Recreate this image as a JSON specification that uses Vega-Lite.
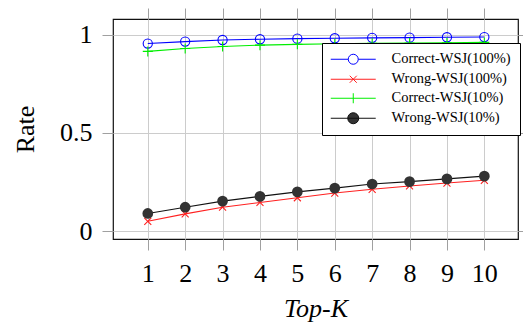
{
  "$schema": "https://vega.github.io/schema/vega-lite/v6.json",
  "width": 405,
  "height": 220,
  "autosize": {"type": "none"},
  "padding": {"left": 113, "top": 19, "right": 5, "bottom": 85},
  "config": {
    "font": "Liberation Serif",
    "view": {"stroke": "#111", "strokeWidth": 1.2},
    "axis": {"labelColor": "#000", "titleColor": "#000", "titleFontWeight": "normal", "labelFont": "Liberation Serif", "titleFont": "Liberation Serif"}
  },
  "data": {"values": [
    {"series": "Correct-WSJ(100%)", "k": 1, "rate": 0.955},
    {"series": "Correct-WSJ(100%)", "k": 2, "rate": 0.965},
    {"series": "Correct-WSJ(100%)", "k": 3, "rate": 0.973},
    {"series": "Correct-WSJ(100%)", "k": 4, "rate": 0.977},
    {"series": "Correct-WSJ(100%)", "k": 5, "rate": 0.980},
    {"series": "Correct-WSJ(100%)", "k": 6, "rate": 0.982},
    {"series": "Correct-WSJ(100%)", "k": 7, "rate": 0.984},
    {"series": "Correct-WSJ(100%)", "k": 8, "rate": 0.985},
    {"series": "Correct-WSJ(100%)", "k": 9, "rate": 0.987},
    {"series": "Correct-WSJ(100%)", "k": 10, "rate": 0.988},
    {"series": "Wrong-WSJ(100%)", "k": 1, "rate": 0.050},
    {"series": "Wrong-WSJ(100%)", "k": 2, "rate": 0.088},
    {"series": "Wrong-WSJ(100%)", "k": 3, "rate": 0.122},
    {"series": "Wrong-WSJ(100%)", "k": 4, "rate": 0.146},
    {"series": "Wrong-WSJ(100%)", "k": 5, "rate": 0.170},
    {"series": "Wrong-WSJ(100%)", "k": 6, "rate": 0.194},
    {"series": "Wrong-WSJ(100%)", "k": 7, "rate": 0.213},
    {"series": "Wrong-WSJ(100%)", "k": 8, "rate": 0.230},
    {"series": "Wrong-WSJ(100%)", "k": 9, "rate": 0.245},
    {"series": "Wrong-WSJ(100%)", "k": 10, "rate": 0.259},
    {"series": "Correct-WSJ(10%)", "k": 1, "rate": 0.915},
    {"series": "Correct-WSJ(10%)", "k": 2, "rate": 0.930},
    {"series": "Correct-WSJ(10%)", "k": 3, "rate": 0.940},
    {"series": "Correct-WSJ(10%)", "k": 4, "rate": 0.947},
    {"series": "Correct-WSJ(10%)", "k": 5, "rate": 0.951},
    {"series": "Correct-WSJ(10%)", "k": 6, "rate": 0.954},
    {"series": "Correct-WSJ(10%)", "k": 7, "rate": 0.956},
    {"series": "Correct-WSJ(10%)", "k": 8, "rate": 0.958},
    {"series": "Correct-WSJ(10%)", "k": 9, "rate": 0.959},
    {"series": "Correct-WSJ(10%)", "k": 10, "rate": 0.961},
    {"series": "Wrong-WSJ(10%)", "k": 1, "rate": 0.090},
    {"series": "Wrong-WSJ(10%)", "k": 2, "rate": 0.122},
    {"series": "Wrong-WSJ(10%)", "k": 3, "rate": 0.153},
    {"series": "Wrong-WSJ(10%)", "k": 4, "rate": 0.177},
    {"series": "Wrong-WSJ(10%)", "k": 5, "rate": 0.200},
    {"series": "Wrong-WSJ(10%)", "k": 6, "rate": 0.219},
    {"series": "Wrong-WSJ(10%)", "k": 7, "rate": 0.240},
    {"series": "Wrong-WSJ(10%)", "k": 8, "rate": 0.252},
    {"series": "Wrong-WSJ(10%)", "k": 9, "rate": 0.266},
    {"series": "Wrong-WSJ(10%)", "k": 10, "rate": 0.280}
  ]},
  "resolve": {"axis": {"x": "independent", "y": "independent"}},
  "layer": [
    {
      "mark": {"type": "line", "strokeWidth": 1.1},
      "encoding": {
        "x": {"field": "k", "type": "quantitative",
          "scale": {"domain": [0.07, 10.9], "nice": false, "zero": false},
          "axis": {"orient": "bottom", "values": [1,2,3,4,5,6,7,8,9,10], "format": "d", "grid": true, "gridColor": "#cccccc", "gridWidth": 1,
            "tickColor": "#a0a0a0", "tickSize": 11, "domain": false, "labelFontSize": 26, "labelPadding": 10,
            "title": "Top-K", "titleFontSize": 26, "titleFontStyle": "italic", "titlePadding": 9}},
        "y": {"field": "rate", "type": "quantitative",
          "scale": {"domain": [-0.04, 1.08], "nice": false, "zero": false},
          "axis": {"orient": "left", "values": [0, 0.5, 1], "format": "~g", "grid": true, "gridColor": "#cccccc", "gridWidth": 1,
            "tickColor": "#a0a0a0", "tickSize": 11, "domain": false, "labelFontSize": 26, "labelPadding": 10,
            "title": "Rate", "titleFontSize": 26, "titlePadding": 21}},
        "color": {"field": "series", "type": "nominal",
          "scale": {"domain": ["Correct-WSJ(100%)", "Wrong-WSJ(100%)", "Correct-WSJ(10%)", "Wrong-WSJ(10%)"],
                    "range": ["#0000ff", "#ff2020", "#00ee00", "#111111"]},
          "legend": {"orient": "none", "legendX": 209, "legendY": 24, "title": null,
            "strokeColor": "#000", "fillColor": "#fff", "padding": 9, "cornerRadius": 0,
            "labelFont": "Liberation Serif", "labelFontSize": 14.5, "labelColor": "#000", "labelOffset": 31,
            "symbolSize": 169, "symbolStrokeWidth": 1, "symbolOffset": 15, "rowPadding": 4,
            "encode": {"symbols": {"update": {
              "shape": {"signal": "datum.value === 'Correct-WSJ(100%)' ? 'M-3.46,0H-0.77M0.77,0H3.46M0.77,0A0.77,0.77,0,1,1,-0.77,0A0.77,0.77,0,1,1,0.77,0Z' : datum.value === 'Wrong-WSJ(100%)' ? 'M-3.46,0H3.46M-0.54,-0.54L0.54,0.54M-0.54,0.54L0.54,-0.54' : datum.value === 'Correct-WSJ(10%)' ? 'M-3.46,0H3.46M0,-0.77V0.77' : 'M-3.46,0H3.46M0.846,0A0.846,0.846,0,1,1,-0.846,0A0.846,0.846,0,1,1,0.846,0Z'"},
              "fill": {"signal": "datum.value === 'Wrong-WSJ(10%)' ? '#333333' : 'transparent'"},
              "stroke": {"signal": "datum.value === 'Correct-WSJ(100%)' ? '#0000ff' : datum.value === 'Wrong-WSJ(100%)' ? '#ff2020' : datum.value === 'Correct-WSJ(10%)' ? '#00ee00' : '#111111'"},
              "strokeWidth": {"value": 1},
              "opacity": {"value": 1}
            }}}}
        }
      }
    },
    {
      "transform": [{"filter": "datum.series === 'Correct-WSJ(100%)'"}],
      "mark": {"type": "point", "shape": "circle", "filled": false, "size": 85, "color": "#0000ff", "strokeWidth": 1.1, "opacity": 1},
      "encoding": {
        "x": {"field": "k", "type": "quantitative",
          "axis": {"orient": "top", "values": [1,2,3,4,5,6,7,8,9,10], "labels": false, "grid": false, "domain": false, "tickColor": "#a0a0a0", "tickSize": 11, "title": null}},
        "y": {"field": "rate", "type": "quantitative",
          "axis": {"orient": "right", "values": [0, 0.5, 1], "labels": false, "grid": false, "domain": false, "tickColor": "#a0a0a0", "tickSize": 11, "title": null}}
      }
    },
    {
      "transform": [{"filter": "datum.series === 'Wrong-WSJ(100%)'"}],
      "mark": {"type": "point", "shape": "M-1,-1L1,1M-1,1L1,-1", "filled": false, "size": 49, "color": "#ff2020", "strokeWidth": 1.1, "opacity": 1},
      "encoding": {
        "x": {"field": "k", "type": "quantitative", "axis": null},
        "y": {"field": "rate", "type": "quantitative", "axis": null}
      }
    },
    {
      "transform": [{"filter": "datum.series === 'Correct-WSJ(10%)'"}],
      "mark": {"type": "point", "shape": "M-1,0H1M0,-1V1", "filled": false, "size": 100, "color": "#00ee00", "strokeWidth": 1.1, "opacity": 1},
      "encoding": {
        "x": {"field": "k", "type": "quantitative", "axis": null},
        "y": {"field": "rate", "type": "quantitative", "axis": null}
      }
    },
    {
      "transform": [{"filter": "datum.series === 'Wrong-WSJ(10%)'"}],
      "mark": {"type": "point", "shape": "circle", "filled": true, "size": 115, "color": "#333333", "opacity": 1},
      "encoding": {
        "x": {"field": "k", "type": "quantitative", "axis": null},
        "y": {"field": "rate", "type": "quantitative", "axis": null}
      }
    }
  ]
}
